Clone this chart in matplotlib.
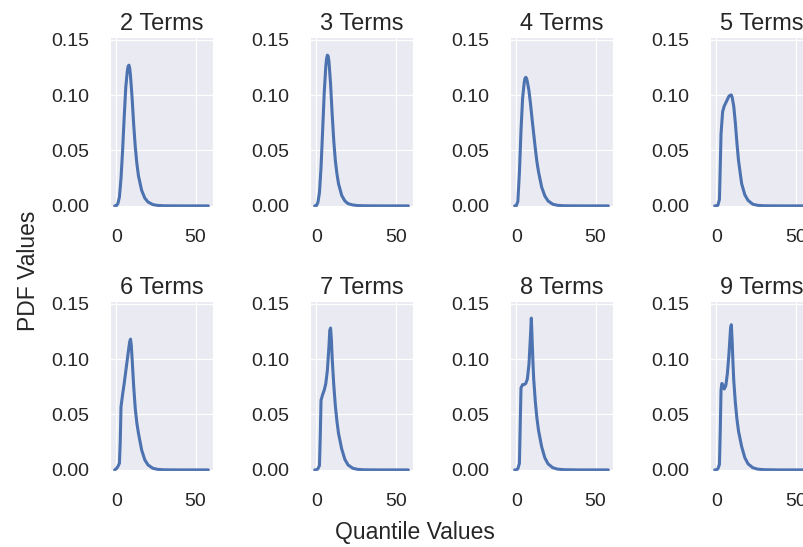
import matplotlib
matplotlib.use('Agg')
import matplotlib.pyplot as plt
import seaborn as sns

sns.set_style('darkgrid')
plt.rcParams['font.family'] = ['Liberation Sans', 'DejaVu Sans']

# PDF curves, one per number of terms
titles = ['2 Terms', '3 Terms', '4 Terms', '5 Terms',
          '6 Terms', '7 Terms', '8 Terms', '9 Terms']

x_2 = [-1, 0, 1, 2, 3, 4, 5, 6, 7, 7.5, 8, 8.5, 9, 10, 11, 12, 13, 14, 16, 18, 20, 23, 26, 30, 40, 58]
pdf_2 = [0, 0, 0.002, 0.008, 0.025, 0.050, 0.080, 0.107, 0.122, 0.126, 0.127, 0.124, 0.117,
         0.097, 0.073, 0.053, 0.038, 0.027, 0.014, 0.007, 0.0035, 0.0012, 0.0004, 0.0001, 0, 0]

x_3 = [-1, 0, 1, 2, 3, 4, 5, 6, 6.5, 7, 7.5, 8, 9, 10, 11, 12, 13, 14, 16, 18, 20, 23, 26, 30, 40, 58]
pdf_3 = [0, 0, 0.003, 0.012, 0.035, 0.068, 0.102, 0.126, 0.133, 0.136, 0.135, 0.130, 0.110,
         0.083, 0.059, 0.041, 0.029, 0.020, 0.0095, 0.0045, 0.002, 0.0008, 0.0003, 0.0001, 0, 0]

x_4 = [-1, 0, 1, 2, 3, 4, 5, 5.5, 6, 6.5, 7, 8, 9, 10, 11, 12, 13, 14, 16, 18, 20, 23, 26, 30, 40, 58]
pdf_4 = [0, 0, 0.004, 0.030, 0.068, 0.097, 0.111, 0.115, 0.116, 0.115, 0.112, 0.104, 0.092,
         0.078, 0.065, 0.052, 0.040, 0.031, 0.017, 0.009, 0.0045, 0.0015, 0.0005, 0.0001, 0, 0]

x_5 = [-1, 0, 1, 2, 2.5, 3, 4, 5, 6, 7, 8, 9, 9.5, 10, 11, 12, 13, 14, 16, 18, 20, 23, 26, 30, 40, 58]
pdf_5 = [0, 0, 0.0005, 0.006, 0.035, 0.065, 0.085, 0.090, 0.093, 0.096, 0.099, 0.100, 0.100,
         0.098, 0.090, 0.075, 0.057, 0.041, 0.020, 0.010, 0.005, 0.0015, 0.0005, 0.0001, 0, 0]

x_6 = [-1, 0, 1, 2, 2.5, 3, 4, 5, 6, 7, 8, 8.5, 9, 9.5, 10, 11, 12, 13, 14, 16, 18, 20, 23, 26, 30, 40, 58]
pdf_6 = [0, 0.001, 0.003, 0.006, 0.025, 0.057, 0.068, 0.078, 0.089, 0.100, 0.111, 0.116,
         0.118, 0.112, 0.100, 0.075, 0.055, 0.042, 0.033, 0.018, 0.009, 0.0045, 0.0015,
         0.0005, 0.0001, 0, 0]

x_7 = [-1, 0, 1, 2, 2.5, 3, 4, 5, 6, 7, 8, 8.5, 9, 9.5, 10, 11, 12, 13, 14, 16, 18, 20, 23, 26, 30, 40, 58]
pdf_7 = [0, 0, 0.001, 0.004, 0.030, 0.063, 0.068, 0.072, 0.078, 0.090, 0.112, 0.126,
         0.128, 0.118, 0.101, 0.077, 0.058, 0.044, 0.033, 0.019, 0.0095, 0.0045, 0.0015,
         0.0005, 0.0001, 0, 0]

x_8 = [-1, 0, 1, 2, 2.5, 3, 4, 5, 6, 7, 8, 9, 9.5, 10, 10.5, 11, 12, 13, 14, 16, 18, 20, 23, 26, 30, 40, 58]
pdf_8 = [0, 0, 0.001, 0.006, 0.040, 0.074, 0.077, 0.077, 0.078, 0.082, 0.095, 0.122,
         0.137, 0.118, 0.098, 0.082, 0.062, 0.047, 0.036, 0.021, 0.011, 0.0055, 0.002,
         0.0007, 0.0002, 0, 0]

x_9 = [-1, 0, 1, 2, 2.5, 3, 3.5, 4, 5, 6, 7, 8, 9, 9.5, 10, 10.5, 11, 12, 13, 14, 16, 18, 20, 23, 26, 30, 40, 58]
pdf_9 = [0, 0, 0.001, 0.005, 0.035, 0.072, 0.078, 0.077, 0.073, 0.076, 0.087, 0.105,
         0.128, 0.131, 0.116, 0.097, 0.081, 0.061, 0.046, 0.035, 0.021, 0.011, 0.0055,
         0.002, 0.0007, 0.0002, 0, 0]

xs = [x_2, x_3, x_4, x_5, x_6, x_7, x_8, x_9]
pdfs = [pdf_2, pdf_3, pdf_4, pdf_5, pdf_6, pdf_7, pdf_8, pdf_9]

fig = plt.figure(figsize=(8.04, 5.47), dpi=100)

lefts = [0.1368, 0.3856, 0.6343, 0.8831]
bottoms = [0.6216, 0.1389]
w, h = 0.1281, 0.310

for i in range(8):
    ax = fig.add_axes([lefts[i % 4], bottoms[i // 4], w, h])
    ax.plot(xs[i], pdfs[i], color='#4C72B0', lw=2.2)
    ax.set_ylim(-0.001, 0.152)
    ax.set_yticks([0, 0.05, 0.10, 0.15])
    ax.set_yticklabels(['0.00', '0.05', '0.10', '0.15'])
    ax.set_xticks([0, 50])
    ax.tick_params(axis='both', labelsize=14, colors='.15', length=0)
    ax.tick_params(axis='y', pad=15)
    ax.tick_params(axis='x', pad=16)
    ax.set_title(titles[i], fontsize=17, color='.15', pad=5.5)

fig.text(0.035, 0.505, 'PDF Values', rotation=90, ha='center', va='center', fontsize=16.5, color='.15')
fig.text(0.516, 0.027, 'Quantile Values', ha='center', va='center', fontsize=16.5, color='.15')

fig.savefig('out.png', dpi=100)
